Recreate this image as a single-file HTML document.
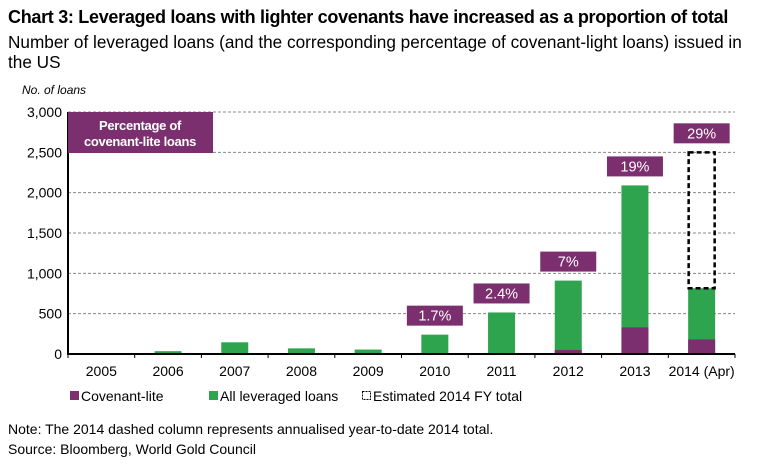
<!DOCTYPE html>
<html><head><meta charset="utf-8"><style>
body{margin:0;background:#fff;font-family:"Liberation Sans",sans-serif;}
#c{position:relative;width:757px;height:468px;overflow:hidden}
</style></head><body><div id="c">
<div style="position:absolute;left:8px;top:7px;font-size:18px;font-weight:bold;color:#000;letter-spacing:-0.3px;white-space:nowrap">Chart 3: Leveraged loans with lighter covenants have increased as a proportion of total</div>
<div style="position:absolute;left:8px;top:32px;width:745px;font-size:17.2px;line-height:20px;color:#000">Number of leveraged loans (and the corresponding percentage of covenant-light loans) issued in the US</div>
<svg id="s" width="757" height="468" style="position:absolute;left:0;top:0" font-family="Liberation Sans, sans-serif"></svg>
<div style="position:absolute;left:8px;top:421px;font-size:14px">Note: The 2014 dashed column represents annualised year-to-date 2014 total.</div>
<div style="position:absolute;left:8px;top:441px;font-size:14px">Source: Bloomberg, World Gold Council</div>
</div>
<script>
const categories=["2005","2006","2007","2008","2009","2010","2011","2012","2013","2014 (Apr)"];
const allLoans=[0,35,145,70,55,240,515,910,2090,815];
const covLite=[0,0,0,0,0,0,0,50,330,180];
const estimated2014=2500;
const pctLabels=[null,null,null,null,null,"1.7%","2.4%","7%","19%","29%"];
const yTicks=[0,500,1000,1500,2000,2500,3000];
const yTickLabels=["0","500","1,000","1,500","2,000","2,500","3,000"];
const NS="http://www.w3.org/2000/svg",svg=document.getElementById('s');
const X0=68,X1=735,Y0=354,Y1=112,YMAX=3000;
const y=v=>Y0-(v/YMAX)*(Y0-Y1);
const cw=(X1-X0)/categories.length;
const xc=i=>X0+cw*(i+0.5);
function mk(t,a,p){const e=document.createElementNS(NS,t);for(const k in a)e.setAttribute(k,a[k]);(p||svg).appendChild(e);return e;}
yTicks.forEach((v,i)=>{
 if(v>0){const l=mk('line',{x1:X0,x2:X1,y1:y(v),y2:y(v),stroke:'#888','stroke-dasharray':'3,2','stroke-width':1});
 }
 const t=mk('text',{x:X0-6,y:y(v)+5,'text-anchor':'end','font-size':14,fill:'#000'});t.textContent=yTickLabels[i];
 
});
const yt=mk('text',{x:22,y:94,'font-size':12,'font-style':'italic',fill:'#000'});yt.textContent='No. of loans';

const bw=27;
categories.forEach((c,i)=>{
 const cx=xc(i);
 if(allLoans[i]>0){const b=mk('rect',{x:cx-bw/2,y:y(allLoans[i]),width:bw,height:Y0-y(allLoans[i]),fill:'#2ea44f'});
 }
 if(covLite[i]>0){const b=mk('rect',{x:cx-bw/2,y:y(covLite[i]),width:bw,height:Y0-y(covLite[i]),fill:'#7b2f6e'});
 }
 let top=y(allLoans[i]);
 if(i===categories.length-1){
  const d=mk('rect',{x:cx-bw/2+0.5,y:y(estimated2014),width:bw-1,height:y(allLoans[i])-y(estimated2014),fill:'none',stroke:'#000','stroke-width':2.5,'stroke-dasharray':'5,3'});
  
  top=y(estimated2014);
 }
 if(pctLabels[i]){
  const g=mk('g',{});
  mk('rect',{x:cx-28,y:top-29,width:56,height:20,fill:'#7b2f6e'},g);
  const t=mk('text',{x:cx,y:top-14,'text-anchor':'middle','font-size':14.5,fill:'#fff'},g);t.textContent=pctLabels[i];
 }
 const xl=mk('text',{x:cx,y:376,'text-anchor':'middle','font-size':14,fill:'#000'});xl.textContent=c;
 
});
const ax=mk('line',{x1:X0,x2:X0,y1:Y1,y2:Y0,stroke:'#000','stroke-width':2});
const bx=mk('line',{x1:X0-1,x2:X1,y1:Y0,y2:Y0,stroke:'#000','stroke-width':2});
for(let i=0;i<=categories.length;i++){mk('line',{x1:X0+cw*i,x2:X0+cw*i,y1:Y0,y2:Y0+4,stroke:'#000','stroke-width':1});}
const lb=mk('g',{});
mk('rect',{x:68,y:112,width:145,height:41,fill:'#7b2f6e'},lb);
[['Percentage of',130],['covenant-lite loans',146]].forEach(([s,yy])=>{const t=mk('text',{x:140,y:yy,'text-anchor':'middle','font-size':13,'font-weight':'bold',fill:'#fff','letter-spacing':'-0.3'},lb);t.textContent=s;});
const legs=[['Covenant-lite',70,'#7b2f6e'],['All leveraged loans',209,'#2ea44f'],['Estimated 2014 FY total',362,null]];
legs.forEach(([s,x,col])=>{
 const g=mk('g',{});
 if(col)mk('rect',{x:x,y:391,width:9,height:9,fill:col},g);
 else mk('rect',{x:x+0.5,y:391.5,width:8,height:8,fill:'none',stroke:'#000','stroke-width':1,'stroke-dasharray':'2,1'},g);
 const t=mk('text',{x:x+11,y:401,'font-size':14,fill:'#000'},g);t.textContent=s;
});
</script></body></html>
